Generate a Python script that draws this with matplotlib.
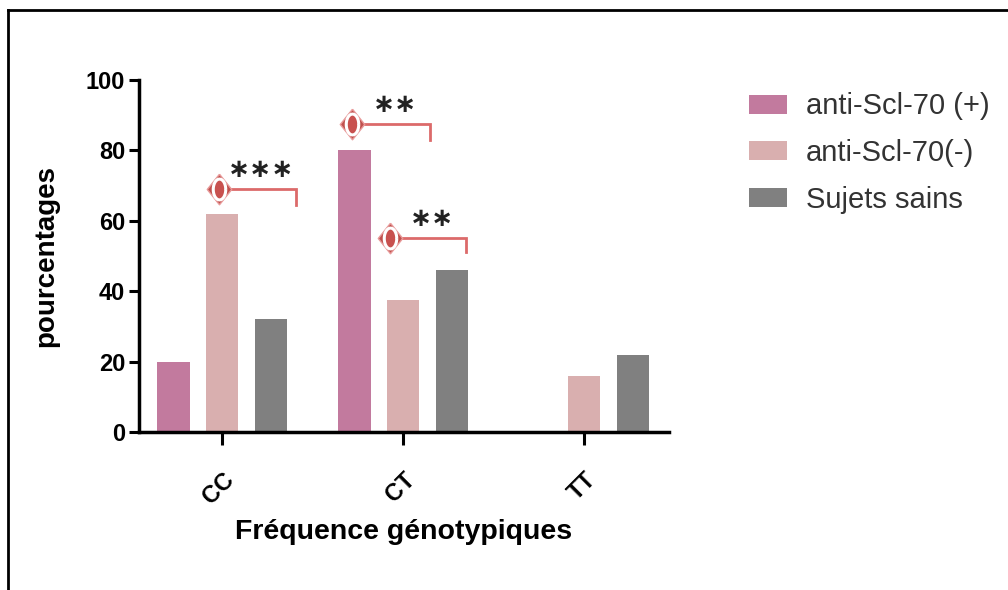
import numpy as np
import matplotlib
matplotlib.use("Agg")
import matplotlib.pyplot as plt
from matplotlib.lines import Line2D

genotypes = ["CC", "CT", "TT"]
series_names = ["anti-Scl-70 (+)", "anti-Scl-70(-)", "Sujets sains"]
scl70_pos = [20, 80, 0]
scl70_neg = [62, 37.5, 16]
healthy = [32, 46, 22]
colors = ["#c27a9e", "#d9afaf", "#808080"]

# significance brackets: (x_start, x_end, y_line, y_drop, label)
brackets = [
    (-0.02, 0.41, 69, 64.5, "∗∗∗"),
    (0.72, 1.15, 87.5, 83, "∗∗"),
    (0.93, 1.35, 55, 51, "∗∗"),
]

plt.rcParams["font.family"] = ["Liberation Sans", "DejaVu Sans"]

fig = plt.figure(figsize=(10.08, 5.9), dpi=100)
ax = fig.add_axes([0.1379, 0.2678, 0.5258, 0.5966])

x = np.arange(len(genotypes))
offset = 0.27
width = 0.18
for i, (vals, name) in enumerate(zip([scl70_pos, scl70_neg, healthy], series_names)):
    ax.bar(x + (i - 1) * offset, vals, width, color=colors[i], label=name)

ax.set_xlim(-0.46, 2.47)
ax.set_ylim(0, 100)
ax.set_yticks([0, 20, 40, 60, 80, 100])
ax.set_xticks(x)
ax.set_xticklabels(genotypes, rotation=45, ha="right", rotation_mode="anchor",
                   fontweight="bold", fontsize=17)
for lbl in ax.get_yticklabels():
    lbl.set_fontweight("bold")
    lbl.set_fontsize(17)

for side in ["top", "right"]:
    ax.spines[side].set_visible(False)
for side in ["left", "bottom"]:
    ax.spines[side].set_linewidth(2.5)
ax.tick_params(axis="y", length=7, width=2.2, pad=3)
ax.tick_params(axis="x", length=9, width=2.2, pad=17)

ax.set_ylabel("pourcentages", fontsize=20, fontweight="bold")
ax.yaxis.set_label_coords(-0.15, 0.5)
ax.set_xlabel("Fréquence génotypiques", fontsize=20.5, fontweight="bold")
ax.xaxis.set_label_coords(0.5, -0.285)
ax.xaxis.label.set_va("center")

# ellipse-shaped marker for the "0" inside the diamond
t = np.linspace(0, 2 * np.pi, 40)
ellipse = np.column_stack([0.6 * np.cos(t), np.sin(t)])
diamond = [(0, 1), (0.8, 0), (0, -1), (-0.8, 0), (0, 1)]

for x0, x1, yl, yd, stars in brackets:
    ax.plot([x0, x1, x1], [yl, yl, yd], color="#dc6a6a", lw=2, clip_on=False,
            solid_joinstyle="miter")
    ax.plot([x0], [yl], marker=diamond, ms=22, mfc="#c0504d", mec="#e89a9a",
            mew=1, clip_on=False)
    ax.plot([x0], [yl], marker=ellipse, ms=15, mfc="#c8514f", mec="white",
            mew=2.2, clip_on=False)
    ax.text((x0 + x1) / 2 + 0.02, yl + 5.5, stars, fontsize=19, ha="center",
            va="center", family=["DejaVu Sans"], fontweight="bold",
            color="#222222")

fig.legend(loc="upper left", bbox_to_anchor=(0.717, 0.888), frameon=False,
           fontsize=21, handlelength=1.3, handleheight=0.62,
           handletextpad=0.65, labelspacing=0.64, labelcolor="#333333")

# frame lines of the original image
fig.add_artist(Line2D([0.008, 1.0], [0.983, 0.983], color="black", lw=2))
fig.add_artist(Line2D([0.008, 0.008], [0.0, 0.983], color="black", lw=2))

fig.savefig("out.png", dpi=100)
